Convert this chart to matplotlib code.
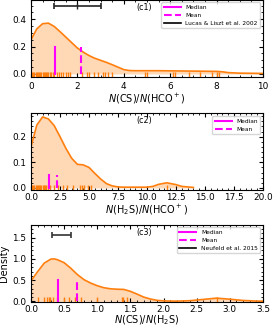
import matplotlib
matplotlib.use("Agg")
import matplotlib.pyplot as plt

# ===== data =====
# (c1) N(CS)/N(HCO+)
C1_CURVE_X = [0, 0.25, 0.5, 0.75, 1.0, 1.25, 1.5, 1.75, 2.0, 2.25, 2.5, 2.75, 3.0, 3.25, 3.5, 3.75,
              4.0, 4.25, 4.5, 5.0, 5.5, 6.0, 6.5, 7.0, 7.5, 8.0, 8.25, 8.5, 9.0, 9.5, 10.0]
C1_CURVE_Y = [0.25, 0.33, 0.368, 0.372, 0.348, 0.31, 0.27, 0.23, 0.19, 0.16, 0.135, 0.115, 0.10, 0.085,
              0.068, 0.05, 0.032, 0.025, 0.024, 0.024, 0.024, 0.023, 0.022, 0.021, 0.02, 0.019, 0.016,
              0.01, 0.006, 0.005, 0.004]
C1_RUG = [0.05, 0.1, 0.15, 0.2, 0.25, 0.3, 0.35, 0.4, 0.45, 0.5, 0.55, 0.6, 0.65, 0.7, 0.75, 0.8,
          0.85, 0.95, 1.0, 1.1, 1.2, 1.3, 1.4, 1.5, 1.6, 1.7, 2.2, 2.4, 2.5, 2.7, 2.9, 3.1, 3.2, 3.3,
          3.5, 4.9, 5.0, 6.1, 6.2, 6.8, 7.3, 7.8, 8.0, 8.1]
C1_MEDIAN = 1.05
C1_MEAN = 2.14
C1_REF = (2.0, 0.5, 1.0)   # centre, y, half width

# (c2) N(H2S)/N(HCO+)
C2_CURVE_X = [0, 0.5, 1.0, 1.5, 2.0, 2.5, 3.0, 3.5, 4.0, 4.5, 5.0, 5.5, 6.0, 6.5, 7.0, 7.5, 8.0,
              9.0, 10.0, 10.5, 11.0, 11.7, 12.5, 13.0, 13.5, 14.0]
C2_CURVE_Y = [0.16, 0.245, 0.277, 0.269, 0.243, 0.20, 0.155, 0.116, 0.092, 0.09, 0.08, 0.057, 0.035,
              0.017, 0.008, 0.004, 0.003, 0.003, 0.003, 0.006, 0.014, 0.02, 0.013, 0.006, 0.004, 0.002]
C2_RUG = [0.1, 0.2, 0.3, 0.4, 0.5, 0.6, 0.7, 0.8, 0.9, 1.0, 1.1, 1.2, 1.3, 1.5, 1.6, 2.0, 2.3, 2.8,
          3.1, 3.6, 4.2, 4.4, 4.6, 4.9, 5.2, 11.7]
C2_MEDIAN = 1.55
C2_MEAN = 2.24

# (c3) N(CS)/N(H2S)
C3_CURVE_X = [0, 0.1, 0.2, 0.3, 0.35, 0.4, 0.5, 0.6, 0.7, 0.8, 0.9, 1.0, 1.1, 1.2, 1.3, 1.4, 1.5,
              1.6, 1.7, 1.8, 1.9, 2.0, 2.2, 2.4, 2.6, 2.8, 3.0, 3.2, 3.4, 3.5]
C3_CURVE_Y = [0.48, 0.70, 0.90, 0.995, 1.0, 0.98, 0.91, 0.78, 0.63, 0.51, 0.43, 0.367, 0.32, 0.295,
              0.285, 0.28, 0.235, 0.17, 0.10, 0.055, 0.023, 0.01, 0.004, 0.015, 0.045, 0.075, 0.05,
              0.02, 0.006, 0.003]
C3_RUG = [0.11, 0.2, 0.24, 0.27, 0.29, 0.33, 0.39, 0.5, 0.57, 0.66, 0.76, 0.99, 1.37, 1.39, 1.45, 2.8]
C3_MEDIAN = 0.41
C3_MEAN = 0.69
C3_REF = (0.46, 1.57, 0.15)

ORANGE = "#ff7f0e"
MAGENTA = "#ff00ff"
PX_W, PX_H = 274, 328


def make_axes(fig, top_px, bottom_px):
    return fig.add_axes([31 / PX_W, 1 - bottom_px / PX_H, 232 / PX_W, (bottom_px - top_px) / PX_H])


def draw_panel(ax, cx, cy, rug, median, mean, mline_top, label, xlabel, xlim, ylim, pad, lpad):
    ax.fill_between(cx, cy, 0, color=ORANGE, alpha=0.3, lw=0)
    ax.plot(cx, cy, color=ORANGE, lw=1.2)
    ax.vlines(rug, 0, 0.07, color=ORANGE, lw=1.0, transform=ax.get_xaxis_transform())
    ax.plot([median, median], [0, mline_top], color=MAGENTA, lw=1.5, label="Median")
    ax.plot([mean, mean], [0, mline_top], color=MAGENTA, lw=1.5, ls="--", label="Mean")
    ax.set_xlim(*xlim)
    ax.set_ylim(*ylim)
    ax.set_xlabel(xlabel, fontsize=7, labelpad=lpad)
    ax.text(0.49, 0.9, label, transform=ax.transAxes, ha="center", va="center", fontsize=5.8)
    ax.minorticks_on()
    ax.tick_params(which="both", direction="in", top=True, right=True, labelsize=6.4)
    ax.tick_params(axis="x", pad=pad)
    ax.tick_params(which="major", length=3)
    ax.tick_params(which="minor", length=1.6)


fig = plt.figure(figsize=(PX_W / 100, PX_H / 100), dpi=100)

ax1 = make_axes(fig, -0.5, 77)
draw_panel(ax1, C1_CURVE_X, C1_CURVE_Y, C1_RUG, C1_MEDIAN, C1_MEAN, 0.2, "(c1)",
           r"$N$(CS)/$N$(HCO$^+$)", (0, 10), (-0.022, 0.545), 3.5, 1)
ax1.errorbar(C1_REF[0], C1_REF[1], xerr=C1_REF[2], fmt="|", color="#222222", ms=4, capsize=2,
             elinewidth=1.2, capthick=1.2)
ax1.plot([], [], color="k", lw=1.2, label="Lucas & Liszt et al. 2002")
ax1.set_yticks([0, 0.2, 0.4])

ax2 = make_axes(fig, 113.3, 190)
draw_panel(ax2, C2_CURVE_X, C2_CURVE_Y, C2_RUG, C2_MEDIAN, C2_MEAN, 0.05, "(c2)",
           r"$N$(H$_2$S)/$N$(HCO$^+$)", (0, 20), (-0.008, 0.291), 2.2, 0.5)
ax2.set_yticks([0, 0.1, 0.2])

ax3 = make_axes(fig, 224.5, 302)
draw_panel(ax3, C3_CURVE_X, C3_CURVE_Y, C3_RUG, C3_MEDIAN, C3_MEAN, 0.5, "(c3)",
           r"$N$(CS)/$N$(H$_2$S)", (0, 3.5), (-0.016, 1.81), 1.8, 0)
ax3.errorbar(C3_REF[0], C3_REF[1], xerr=C3_REF[2], fmt="none", ecolor="#333333", capsize=2,
             elinewidth=1.2, capthick=1.2)
ax3.plot([], [], color="k", lw=1.2, label="Neufeld et al. 2015")
ax3.set_yticks([0, 0.5, 1.0, 1.5])
ax3.set_ylabel("Density", fontsize=7, labelpad=2)

for ax in (ax1, ax2, ax3):
    ax.legend(loc="upper right", fontsize=4.2, handlelength=2.9, borderaxespad=0.5)

fig.savefig("out.png", dpi=100)
